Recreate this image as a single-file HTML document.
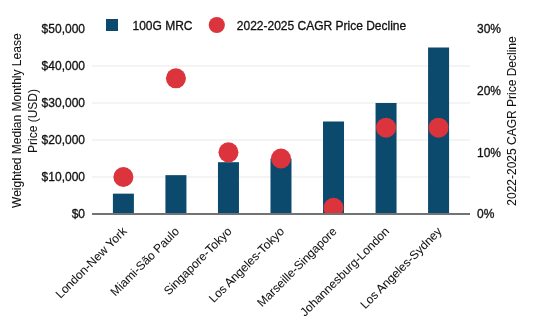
<!DOCTYPE html><html><head><meta charset="utf-8"><style>html,body{margin:0;padding:0;background:#fff;width:550px;height:330px;overflow:hidden}svg{display:block;will-change:transform}text{font-family:"Liberation Sans",sans-serif;font-size:12px;fill:#111;stroke:#111;stroke-width:0.3px}text.r{stroke-width:0.05px}</style></head><body>
<svg width="550" height="330" viewBox="0 0 550 330">
<rect width="550" height="330" fill="#fff"/>
<line x1="92" x2="470" y1="177.00" y2="177.00" stroke="#e9e9e9" stroke-width="1"/>
<line x1="92" x2="470" y1="140.00" y2="140.00" stroke="#e9e9e9" stroke-width="1"/>
<line x1="92" x2="470" y1="103.00" y2="103.00" stroke="#e9e9e9" stroke-width="1"/>
<line x1="92" x2="470" y1="66.00" y2="66.00" stroke="#e9e9e9" stroke-width="1"/>
<rect x="112.90" y="193.65" width="21" height="20.35" fill="#0b4a6d"/>
<rect x="165.43" y="175.15" width="21" height="38.85" fill="#0b4a6d"/>
<rect x="217.96" y="162.20" width="21" height="51.80" fill="#0b4a6d"/>
<rect x="270.49" y="158.50" width="21" height="55.50" fill="#0b4a6d"/>
<rect x="323.02" y="121.50" width="21" height="92.50" fill="#0b4a6d"/>
<rect x="375.55" y="103.00" width="21" height="111.00" fill="#0b4a6d"/>
<rect x="428.08" y="47.50" width="21" height="166.50" fill="#0b4a6d"/>
<line x1="92" x2="470" y1="214" y2="214" stroke="#737373" stroke-width="2"/>
<clipPath id="pc"><rect x="0" y="0" width="550" height="214.00"/></clipPath><g clip-path="url(#pc)">
<circle cx="123.40" cy="177.00" r="10" fill="#dc343d"/>
<circle cx="175.93" cy="78.33" r="10" fill="#dc343d"/>
<circle cx="228.46" cy="152.33" r="10" fill="#dc343d"/>
<circle cx="280.99" cy="158.50" r="10" fill="#dc343d"/>
<circle cx="333.52" cy="207.83" r="10" fill="#dc343d"/>
<circle cx="386.05" cy="127.67" r="10" fill="#dc343d"/>
<circle cx="438.58" cy="127.67" r="10" fill="#dc343d"/>
</g>
<line x1="92" x2="470" y1="214" y2="214" stroke="#737373" stroke-width="2"/>
<text x="85" y="218" text-anchor="end">$0</text>
<text x="85" y="181" text-anchor="end">$10,000</text>
<text x="85" y="144" text-anchor="end">$20,000</text>
<text x="85" y="107" text-anchor="end">$30,000</text>
<text x="85" y="70" text-anchor="end">$40,000</text>
<text x="85" y="33" text-anchor="end">$50,000</text>
<text x="477" y="218">0%</text>
<text x="477" y="157">10%</text>
<text x="477" y="95">20%</text>
<text x="477" y="33">30%</text>
<text transform="translate(127.40,232.10) rotate(-45)" text-anchor="end" class="r">London-New York</text>
<text transform="translate(179.93,232.10) rotate(-45)" text-anchor="end" class="r">Miami-São Paulo</text>
<text transform="translate(232.46,232.10) rotate(-45)" text-anchor="end" class="r">Singapore-Tokyo</text>
<text transform="translate(284.99,232.10) rotate(-45)" text-anchor="end" class="r">Los Angeles-Tokyo</text>
<text transform="translate(337.52,232.10) rotate(-45)" text-anchor="end" class="r">Marseille-Singapore</text>
<text transform="translate(390.05,232.10) rotate(-45)" text-anchor="end" class="r">Johannesburg-London</text>
<text transform="translate(442.58,232.10) rotate(-45)" text-anchor="end" class="r">Los Angeles-Sydney</text>
<rect x="106" y="19" width="12" height="12" fill="#0b4a6d"/>
<text x="132.5" y="30.4">100G MRC</text>
<circle cx="216.8" cy="25" r="8.1" fill="#dc343d"/>
<text x="236.8" y="30">2022-2025 CAGR Price Decline</text>
<text transform="translate(20.7,120.7) rotate(-90)" text-anchor="middle" class="r">Weighted Median Monthly Lease</text>
<text transform="translate(36.9,121) rotate(-90)" text-anchor="middle" class="r">Price (USD)</text>
<text transform="translate(515.5,121) rotate(-90)" text-anchor="middle" class="r">2022-2025 CAGR Price Decline</text>
</svg></body></html>
